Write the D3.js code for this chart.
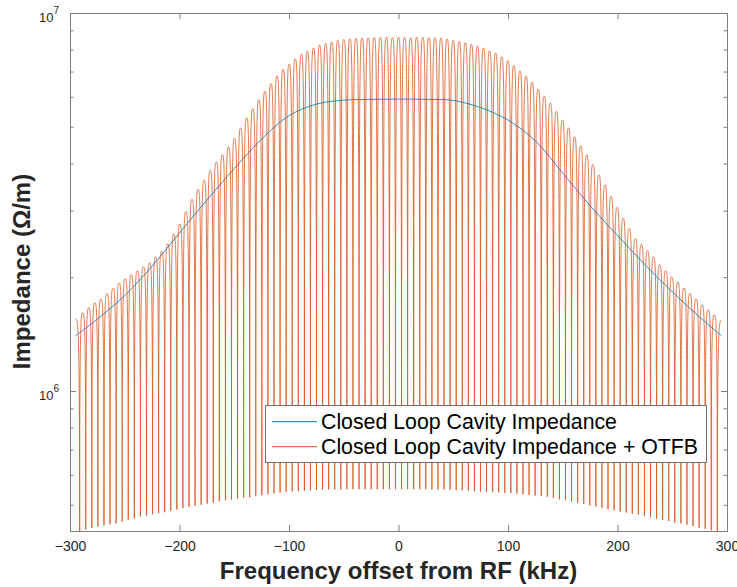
<!DOCTYPE html>
<html>
<head>
<meta charset="utf-8">
<script src="https://cdn.jsdelivr.net/npm/d3@7"></script>
<style>
    body { margin: 0; background: #fff; }
    svg { display: block; font-family: 'Liberation Sans', Arial, Helvetica, sans-serif; }
</style>
</head>
<body>
<div id="chart"></div>
<script>
// Data
const seriesNames = ['Closed Loop Cavity Impedance', 'Closed Loop Cavity Impedance + OTFB']
const xTicks = [-300, -200, -100, 0, 100, 200, 300]
const yMajorTicks = [1e6, 1e7]
const yMinorTicks = [5e5, 6e5, 7e5, 8e5, 9e5, 2e6, 3e6, 4e6, 5e6, 6e6, 7e6, 8e6, 9e6]

// closed loop cavity impedance, kHz and MOhm/m
const cavityFreq = [-295, -275, -250, -225, -200, -175, -150, -125, -100, -75, -50, -25, 0,
    25, 50, 75, 100, 125, 150, 175, 200, 225, 250, 275, 295]
const cavityImp = [1.40, 1.55, 1.79, 2.14, 2.62, 3.20, 3.88, 4.64, 5.35, 5.74, 5.88, 5.91, 5.92,
    5.91, 5.87, 5.62, 5.21, 4.59, 3.77, 3.09, 2.58, 2.16, 1.83, 1.57, 1.40]

// with OTFB: comb teeth (spacing in kHz), peak and notch heights in MOhm/m
const combSpacing = 5.546
const combPeaks = [
    1.61, 1.66, 1.71, 1.75, 1.81, 1.87, 1.93, 1.98, 2.03, 2.08, 2.13, 2.18, 2.26, 2.34, 2.45,
    2.60, 2.76, 2.98, 3.21, 3.41, 3.61, 3.83, 4.03, 4.22, 4.42, 4.66, 4.96, 5.28, 5.58, 5.89,
    6.20, 6.50, 6.82, 7.09, 7.32, 7.55, 7.77, 7.92, 8.07, 8.22, 8.30, 8.38, 8.46, 8.51, 8.54,
    8.57, 8.59, 8.59, 8.60, 8.61, 8.62, 8.60, 8.62, 8.61, 8.60, 8.62, 8.61, 8.60, 8.59, 8.58,
    8.53, 8.46, 8.41, 8.34, 8.26, 8.16, 8.07, 7.94, 7.82, 7.65, 7.48, 7.26, 7.02, 6.80, 6.55,
    6.28, 6.02, 5.77, 5.49, 5.21, 4.96, 4.70, 4.45, 4.21, 3.97, 3.73, 3.51, 3.27, 3.06, 2.86,
    2.69, 2.53, 2.44, 2.35, 2.26, 2.16, 2.08, 2.00, 1.94, 1.87, 1.81, 1.75, 1.69, 1.64, 1.59]
const combNotches = [
    0.421, 0.430, 0.434, 0.438, 0.441, 0.444, 0.447, 0.451, 0.456, 0.460, 0.465, 0.468, 0.472,
    0.475, 0.478, 0.482, 0.486, 0.490, 0.494, 0.497, 0.500, 0.504, 0.507, 0.511, 0.514, 0.516,
    0.519, 0.522, 0.524, 0.527, 0.530, 0.533, 0.536, 0.538, 0.541, 0.543, 0.544, 0.545, 0.546,
    0.547, 0.548, 0.549, 0.549, 0.549, 0.550, 0.550, 0.550, 0.550, 0.550, 0.550, 0.550, 0.550,
    0.550, 0.550, 0.550, 0.550, 0.550, 0.550, 0.549, 0.549, 0.549, 0.549, 0.547, 0.546, 0.545,
    0.543, 0.542, 0.541, 0.540, 0.539, 0.538, 0.537, 0.535, 0.533, 0.531, 0.529, 0.527, 0.525,
    0.521, 0.517, 0.514, 0.510, 0.506, 0.502, 0.498, 0.495, 0.491, 0.487, 0.484, 0.480, 0.477,
    0.473, 0.470, 0.467, 0.463, 0.459, 0.456, 0.453, 0.449, 0.446, 0.443, 0.439, 0.435, 0.432,
    0.428, 0.421]
const combEdgeFreq = [-295, 295]
const combEdgeImp = [1.55, 1.54]

// sharp notches, rounded tops
function combCurve(context) {
    let x0, y0, i
    return {
        areaStart() {}, areaEnd() {},
        lineStart() { i = 0 },
        lineEnd() {},
        point(x, y) {
            x = +x; y = +y
            if (i++ === 0) context.moveTo(x, y)
            else {
                const dx = x - x0
                if (y > y0) context.bezierCurveTo(x0 + 0.6 * dx, y0, x, y0, x, y)
                else context.bezierCurveTo(x0, y, x - 0.6 * dx, y, x, y)
            }
            x0 = x; y0 = y
        }
    }
}

function draw() {
    const cavity = cavityFreq.map((f, i) => ({ f: f, z: cavityImp[i] }))

    const half = (combPeaks.length - 1) / 2
    const comb = [{ f: combEdgeFreq[0], z: combEdgeImp[0] }]
    combNotches.forEach((z, j) => {
        comb.push({ f: (j - half - 0.5) * combSpacing, z: z })
        if (j < combPeaks.length) comb.push({ f: (j - half) * combSpacing, z: combPeaks[j] })
    })
    comb.push({ f: combEdgeFreq[1], z: combEdgeImp[1] })

    const xAccessor = d => d.f
    const yAccessor = d => d.z * 1e6

    //Dimensions
    let dimensions = {
        width: 737,
        height: 587,
        margin: { top: 13, bottom: 56, left: 70, right: 10 }
    }
    dimensions.ctrWidth = dimensions.width - dimensions.margin.left - dimensions.margin.right
    dimensions.ctrHeight = dimensions.height - dimensions.margin.top - dimensions.margin.bottom

    const svg = d3.select('#chart')
        .append('svg')
        .attr('width', dimensions.width)
        .attr('height', dimensions.height)
    const ctr = svg.append('g')
        .attr('transform', `translate(${dimensions.margin.left},${dimensions.margin.top})`)

    //Scales
    const xScale = d3.scaleLinear()
        .domain([-300, 300])
        .range([0, dimensions.ctrWidth])
    const yScale = d3.scaleLog()
        .domain([4.263e5, 1e7])
        .range([dimensions.ctrHeight, 0])

    svg.append('clipPath').attr('id', 'plot-clip')
        .append('rect')
        .attr('width', dimensions.ctrWidth)
        .attr('height', dimensions.ctrHeight)

    const colors = ['#0072BD', '#D95319']

    //Lines
    const plot = ctr.append('g').attr('clip-path', 'url(#plot-clip)')
    plot.append('path')
        .datum(comb)
        .attr('fill', 'none')
        .attr('stroke', colors[1])
        .attr('stroke-width', 0.8)
        .attr('d', d3.line().x(d => xScale(xAccessor(d))).y(d => yScale(yAccessor(d))).curve(combCurve))
    plot.append('path')
        .datum(cavity)
        .attr('fill', 'none')
        .attr('stroke', colors[0])
        .attr('stroke-width', 0.8)
        .attr('d', d3.line().x(d => xScale(xAccessor(d))).y(d => yScale(yAccessor(d))).curve(d3.curveCatmullRom.alpha(0.5)))

    //Axes
    const axisColor = '#7d7d7d'
    const styleAxis = g => {
        g.select('.domain').remove()
        g.attr('font-family', null).attr('font-size', 14).attr('color', axisColor)
        g.selectAll('text').attr('fill', '#262626')
    }

    ctr.append('g')
        .attr('transform', `translate(0,${dimensions.ctrHeight})`)
        .call(d3.axisBottom(xScale).tickValues(xTicks).tickSizeInner(-6).tickSizeOuter(0).tickPadding(10))
        .call(styleAxis)
    ctr.append('g')
        .call(d3.axisTop(xScale).tickValues(xTicks).tickSizeInner(-6).tickSizeOuter(0).tickFormat(''))
        .call(styleAxis)

    const yAxisGroup = ctr.append('g')
        .call(d3.axisLeft(yScale).tickValues(yMajorTicks).tickSizeInner(-6).tickSizeOuter(0)
            .tickPadding(11).tickFormat(() => '10'))
        .call(styleAxis)
    yAxisGroup.selectAll('.tick text')
        .attr('font-size', 13)
        .attr('dy', '0.62em')
        .append('tspan')
        .attr('font-size', 10)
        .attr('dy', '-0.75em')
        .text(d => Math.round(Math.log10(d)))
    ctr.append('g')
        .call(d3.axisLeft(yScale).tickValues(yMinorTicks).tickSizeInner(-3.5).tickSizeOuter(0).tickFormat(''))
        .call(styleAxis)
    ctr.append('g')
        .attr('transform', `translate(${dimensions.ctrWidth},0)`)
        .call(d3.axisRight(yScale).tickValues(yMajorTicks).tickSizeInner(-6).tickSizeOuter(0).tickFormat(''))
        .call(styleAxis)
    ctr.append('g')
        .attr('transform', `translate(${dimensions.ctrWidth},0)`)
        .call(d3.axisRight(yScale).tickValues(yMinorTicks).tickSizeInner(-3.5).tickSizeOuter(0).tickFormat(''))
        .call(styleAxis)

    ctr.append('rect')
        .attr('width', dimensions.ctrWidth)
        .attr('height', dimensions.ctrHeight)
        .attr('fill', 'none')
        .attr('stroke', axisColor)
        .attr('shape-rendering', 'crispEdges')

    //Axis titles
    svg.append('text')
        .attr('x', dimensions.margin.left + dimensions.ctrWidth / 2)
        .attr('y', 579)
        .attr('text-anchor', 'middle')
        .attr('font-size', 24)
        .attr('font-weight', 'bold')
        .attr('fill', '#262626')
        .text('Frequency offset from RF (kHz)')
    svg.append('text')
        .attr('transform', 'translate(30,271.5) rotate(-90)')
        .attr('text-anchor', 'middle')
        .attr('font-size', 24)
        .attr('font-weight', 'bold')
        .attr('fill', '#262626')
        .text('Impedance (Ω/m)')

    //Legend
    const legend = svg.append('g').attr('transform', 'translate(265,405)')
    legend.append('rect')
        .attr('width', 441)
        .attr('height', 57)
        .attr('fill', '#fff')
        .attr('stroke', '#6f6f6f')
        .attr('shape-rendering', 'crispEdges')
    const items = legend.selectAll('g.item')
        .data(seriesNames)
        .join('g')
        .attr('class', 'item')
        .attr('transform', (d, i) => `translate(0,${16.7 + i * 25})`)
    items.append('line')
        .attr('x1', 7).attr('x2', 52)
        .attr('stroke', (d, i) => colors[i])
        .attr('stroke-width', 1)
    items.append('text')
        .attr('x', 56)
        .attr('dy', '0.36em')
        .attr('font-size', 21.3)
        .attr('fill', '#000')
        .text(d => d)
}
draw()
</script>
</body>
</html>
